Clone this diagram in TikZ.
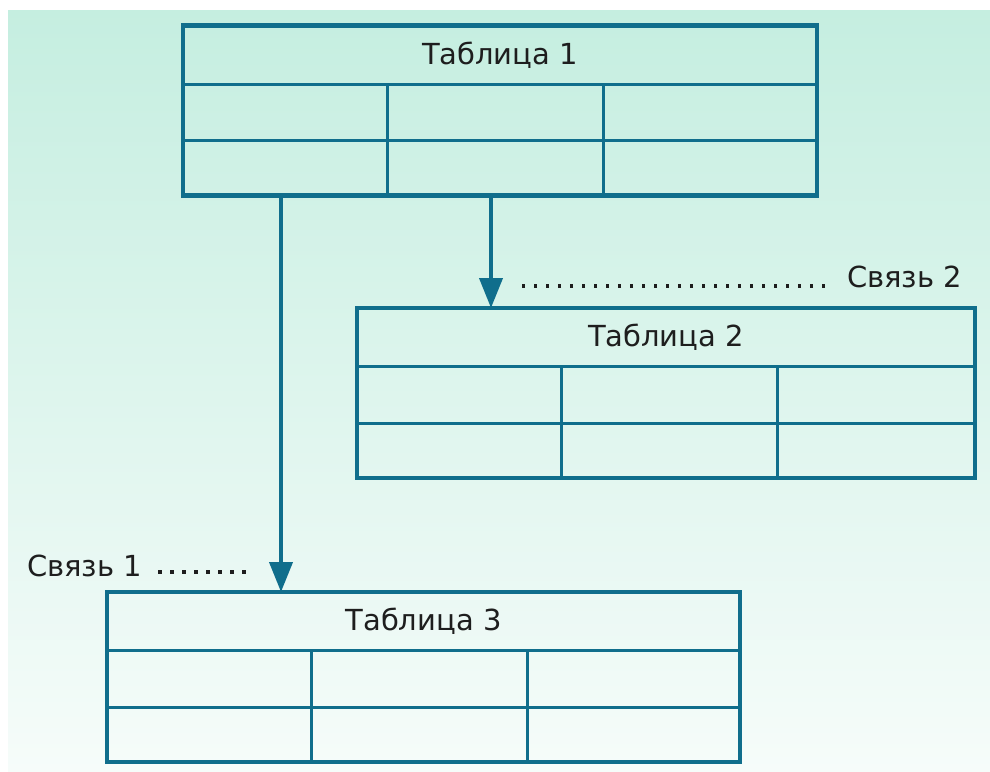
\documentclass[tikz,border=0pt]{standalone}
\usepackage{fontspec}
\setmainfont{DejaVu Sans}
\usetikzlibrary{arrows.meta,calc}
\definecolor{teal1}{RGB}{16,110,140}
\definecolor{bgtop}{RGB}{197,238,224}
\definecolor{bgbot}{RGB}{246,252,250}
\definecolor{txt}{RGB}{30,30,30}
\tikzset{
  tbl/.style={draw=teal1, line width=4.5pt, minimum height=170pt, inner sep=0pt, outer sep=0pt},
  inner/.style={draw=teal1, line width=3pt},
  ttl/.style={text=txt, font=\fontsize{29}{32}\selectfont, inner sep=0pt},
  lbl/.style={text=txt, font=\fontsize{29}{32}\selectfont, inner sep=0pt},
  arr/.style={draw=teal1, line width=4pt, -{Triangle[width=23pt,length=30pt]}},
  leader/.style={draw=txt, line width=3.2pt, dash pattern=on 3.2pt off 8.8pt, line cap=butt},
}
\newcommand\dbtable[5]{%
  \node[tbl, minimum width=#4pt, anchor=north west] (#1) at (#2,#3) {};
  \node[ttl] (#1-title) at ($(#1.north)+(0,29.5)$) {#5};
  \draw[inner] ($(#1.north west)+(0,58.5)$) -- ($(#1.north east)+(0,58.5)$);
  \draw[inner] ($(#1.north west)+(0,115)$) -- ($(#1.north east)+(0,115)$);
  \draw[inner] ($(#1.north west)+(204,58.5)$) -- ($(#1.south west)+(204,0)$);
  \draw[inner] ($(#1.north west)+(420,58.5)$) -- ($(#1.south west)+(420,0)$);
  \node[tbl, minimum width=#4pt, anchor=north west] at (#2,#3) {};
}
\begin{document}
\begin{tikzpicture}[x=1pt,y=-1pt]
\useasboundingbox (0,0) rectangle (990,771);
\fill[white] (0,0) rectangle (990,771);
\shade[top color=bgtop, bottom color=bgbot] (8,10) rectangle (990,771);

\dbtable{t1}{183}{25.5}{634}{Таблица 1}
\dbtable{t2}{357}{308}{618}{Таблица 2}
\dbtable{t3}{107}{592}{633}{Таблица 3}

\coordinate (a1) at (281,0);
\coordinate (a2) at (491,0);
\draw[arr] (t1.south -| a1) -- (t3.north -| a1);
\draw[arr] (t1.south -| a2) -- (t2.north -| a2);

\node[lbl, anchor=west] (l2) at (847,277) {Связь 2};
\coordinate (d2) at (519,286);
\draw[leader] ($(l2.west |- d2)+(-22,0)$) -- (d2);

\node[lbl, anchor=west] (l1) at (27,566) {Связь 1};
\coordinate (d1) at (254,572);
\draw[leader] ($(l1.east |- d1)+(16,0)$) -- (d1);
\end{tikzpicture}
\end{document}
